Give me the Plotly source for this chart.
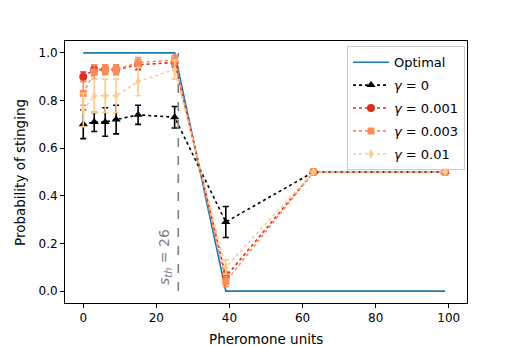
import plotly.graph_objects as go

# pheromone units sampled
pheromone = [0, 3, 6, 9, 15, 25, 39, 63, 99]
optimal = [1, 1, 1, 1, 1, 1, 0, 0, 0]
s_th = 26

# probability of stinging (mean, error) per gamma
g0_mean = [0.70, 0.71, 0.71, 0.72, 0.74, 0.73, 0.29, 0.50, 0.50]
g0_err = [0.06, 0.04, 0.06, 0.06, 0.04, 0.045, 0.065, 0.0, 0.0]
g1_mean = [0.90, 0.93, 0.93, 0.93, 0.95, 0.96, 0.06, 0.50, 0.50]
g1_err = [0.02, 0.02, 0.02, 0.02, 0.02, 0.02, 0.02, 0.0, 0.0]
g3_mean = [0.83, 0.92, 0.93, 0.93, 0.96, 0.97, 0.04, 0.50, 0.50]
g3_err = [0.05, 0.03, 0.02, 0.02, 0.02, 0.02, 0.02, 0.0, 0.0]
g10_mean = [0.76, 0.82, 0.82, 0.82, 0.88, 0.93, 0.10, 0.50, 0.50]
g10_err = [0.07, 0.07, 0.07, 0.07, 0.06, 0.04, 0.03, 0.0, 0.0]

series = [
    ("<i>γ</i> = 0", g0_mean, g0_err, "black", "triangle-up", 8),
    ("<i>γ</i> = 0.001", g1_mean, g1_err, "#d7301f", "circle", 8),
    ("<i>γ</i> = 0.003", g3_mean, g3_err, "#fc8d59", "square", 7),
    ("<i>γ</i> = 0.01", g10_mean, g10_err, "#fdcc8a", "diamond-tall", 7),
]

fig = go.Figure()

fig.add_trace(go.Scatter(
    x=pheromone, y=optimal, mode="lines", name="Optimal", legendgroup="opt",
    line=dict(color="#1f77b4", width=1.6),
))

for name, mean, err, color, symbol, size in series:
    fig.add_trace(go.Scatter(
        x=pheromone, y=mean, mode="lines+markers", name=name, legendgroup=name,
        line=dict(color=color, width=1.6, dash="dot"),
        marker=dict(color=color, symbol=symbol, size=size),
        error_y=dict(type="data", array=err, color=color, thickness=1.6, width=3),
    ))

# threshold line
fig.add_shape(type="line", x0=s_th, x1=s_th, y0=0, y1=1, xref="x", yref="y",
              line=dict(color="gray", width=1.6, dash="dash"))
fig.add_annotation(x=s_th - 3.8, y=0.145, xref="x", yref="y",
                   text="<i>s</i><sub><i>th</i></sub> = 26", textangle=-90,
                   showarrow=False, font=dict(color="gray", size=14))

# axis titles as annotations (axis automargin is off)
fig.add_annotation(x=0.5, y=-0.137, xref="paper", yref="paper", yanchor="middle",
                   text="Pheromone units", showarrow=False, font=dict(size=13.5))
fig.add_annotation(x=-0.112, y=0.5, xref="paper", yref="paper", xanchor="center",
                   text="Probability of stinging", textangle=-90, showarrow=False,
                   font=dict(size=13.5))

axis_style = dict(showgrid=False, zeroline=False, showline=True, linecolor="black",
                  linewidth=1, mirror=True, ticks="outside", ticklen=4,
                  tickcolor="black", tickfont=dict(size=12), automargin=False)

# the page body adds an 8px offset, so the figure is shifted to compensate
fig.update_layout(
    width=504, height=338,
    margin=dict(l=57, r=45, t=33, b=43),
    paper_bgcolor="white", plot_bgcolor="white",
    font=dict(family="DejaVu Sans", color="black", size=12),
    xaxis=dict(range=[-5, 105], tickvals=[0, 20, 40, 60, 80, 100], **axis_style),
    yaxis=dict(range=[-0.05, 1.05], tickvals=[0, 0.2, 0.4, 0.6, 0.8, 1.0],
               tickformat=".1f", **axis_style),
    legend=dict(x=0.995, y=0.98, xanchor="right", yanchor="top",
                bgcolor="rgba(255,255,255,0.8)", bordercolor="#cccccc", borderwidth=1,
                font=dict(size=13), tracegroupgap=3, itemwidth=36),
)

fig.write_html("out.html")
